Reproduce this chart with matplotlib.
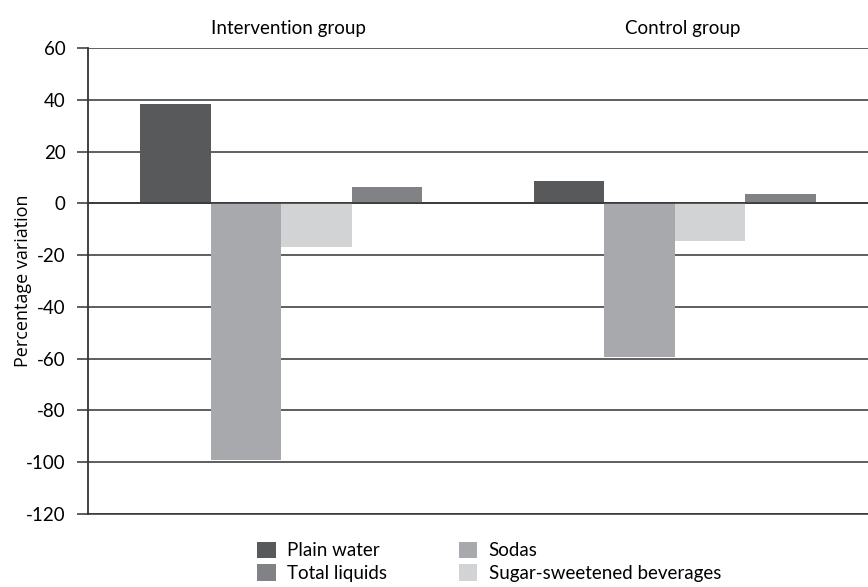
import matplotlib.pyplot as plt
from matplotlib.patches import Patch
import numpy as np

groups = ["Intervention group", "Control group"]
series = ["Plain water", "Sodas", "Sugar-sweetened beverages", "Total liquids"]
plain_water = [38.5, 8.5]
sodas = [-99.0, -59.5]
sugar_sweetened = [-17.0, -14.5]
total_liquids = [6.5, 3.5]
yticks = [60, 40, 20, 0, -20, -40, -60, -80, -100, -120]

colors = {
    "Plain water": "#58595b",
    "Sodas": "#a7a9ac",
    "Sugar-sweetened beverages": "#d1d3d4",
    "Total liquids": "#808285",
}

plt.rcParams['font.family'] = ['Lato', 'DejaVu Sans']

fig = plt.figure(figsize=(8.68, 5.87), dpi=100)
ax = fig.add_axes([0.1014, 0.1244, 0.8986, 0.7936])

x = np.arange(len(groups))
width = 0.179
values = [plain_water, sodas, sugar_sweetened, total_liquids]
for i, (name, vals) in enumerate(zip(series, values)):
    offset = (i - 1.5) * width
    ax.bar(x + offset, vals, width, color=colors[name], zorder=2, linewidth=0)

ax.set_ylim(-120, 60)
ax.set_xlim(-0.49, 1.49)
ax.set_yticks(yticks)
ax.set_yticklabels([str(t) for t in yticks], fontsize=13.5)
ax.yaxis.grid(True, color="#333333", linewidth=1.1, zorder=1)
ax.axhline(0, color="#333333", linewidth=1.1, zorder=3)
ax.tick_params(axis="y", length=8, width=1.1, color="#333333", pad=8)

ax.xaxis.tick_top()
ax.set_xticks(x + 0.02)
ax.set_xticklabels(groups, fontsize=13.5)
ax.tick_params(axis="x", length=0, pad=8)

for side in ["top", "right"]:
    ax.spines[side].set_visible(False)
ax.spines["left"].set_linewidth(1.3)
ax.spines["left"].set_color("#333333")
ax.spines["bottom"].set_linewidth(1.1)
ax.spines["bottom"].set_color("#333333")

ax.set_ylabel("Percentage variation", fontsize=13,
              family=["Open Sans", "DejaVu Sans"])
ax.yaxis.set_label_coords(-0.072, 0.5)

order = ["Plain water", "Total liquids", "Sodas", "Sugar-sweetened beverages"]
handles = [Patch(facecolor=colors[n], edgecolor="none") for n in order]
fig.legend(handles, order, ncol=2, loc="lower left",
           bbox_to_anchor=(0.288, -0.004), frameon=False, fontsize=13.5,
           handlelength=1.0, handleheight=1.0, handletextpad=0.6,
           columnspacing=3.8, labelspacing=0.25, borderaxespad=0)

fig.savefig("out.png", dpi=100)
